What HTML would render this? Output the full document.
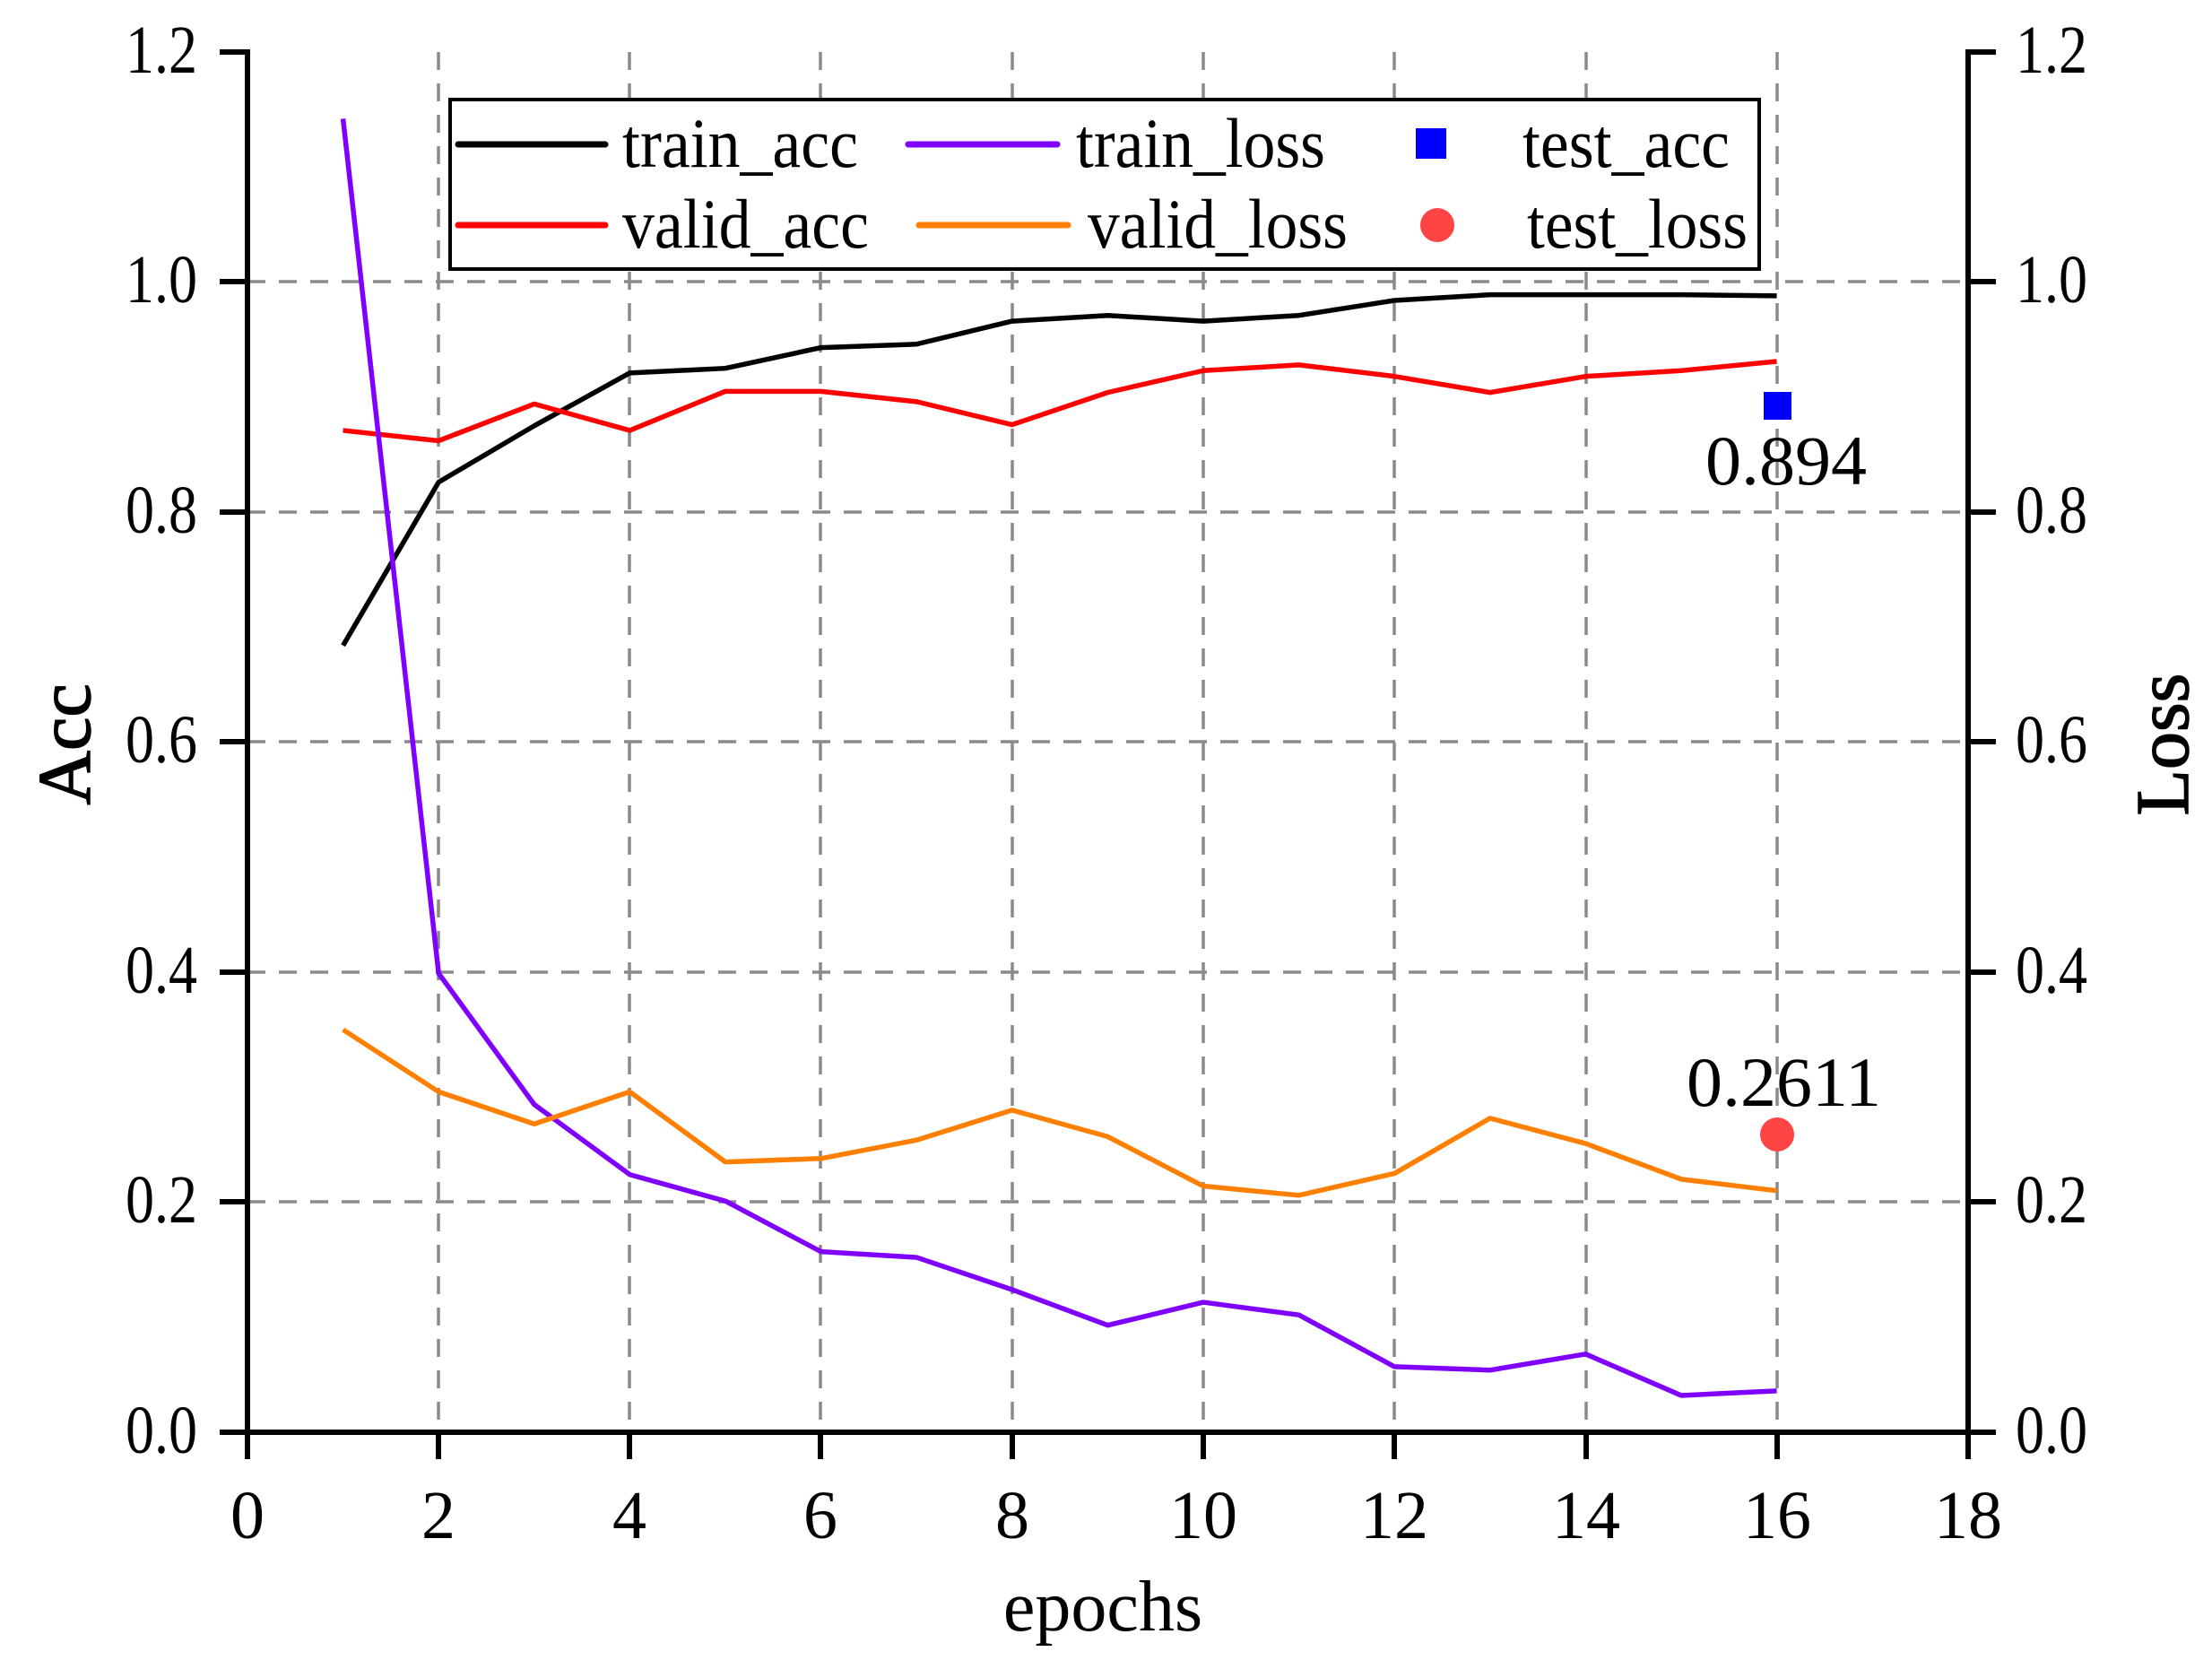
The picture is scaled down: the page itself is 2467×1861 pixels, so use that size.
<!DOCTYPE html>
<html><head><style>
html,body{margin:0;padding:0;background:#fff;}
svg{display:block;}
text{font-family:"Liberation Serif",serif;fill:#000;}
</style></head><body>
<svg width="2467" height="1861" viewBox="0 0 2467 1861" xmlns="http://www.w3.org/2000/svg">
<rect width="2467" height="1861" fill="#fff"/>
<g stroke="#8a8a8a" stroke-width="3.5" stroke-dasharray="20,15" fill="none">
<line x1="489" y1="58" x2="489" y2="1597"/>
<line x1="702" y1="58" x2="702" y2="1597"/>
<line x1="915" y1="58" x2="915" y2="1597"/>
<line x1="1129" y1="58" x2="1129" y2="1597"/>
<line x1="1342" y1="58" x2="1342" y2="1597"/>
<line x1="1555" y1="58" x2="1555" y2="1597"/>
<line x1="1769" y1="58" x2="1769" y2="1597"/>
<line x1="1982" y1="58" x2="1982" y2="1597"/>
<line x1="276" y1="314" x2="2195" y2="314"/>
<line x1="276" y1="571" x2="2195" y2="571"/>
<line x1="276" y1="827" x2="2195" y2="827"/>
<line x1="276" y1="1084" x2="2195" y2="1084"/>
<line x1="276" y1="1340" x2="2195" y2="1340"/>
</g>
<rect x="502" y="111" width="1460" height="189" fill="#fff" stroke="#000" stroke-width="4"/>
<g stroke-width="7" stroke-linecap="round">
<line x1="511" y1="161" x2="675" y2="161" stroke="#000"/>
<line x1="511" y1="251" x2="675" y2="251" stroke="#f00"/>
<line x1="1013" y1="161" x2="1179" y2="161" stroke="#8000ff"/>
<line x1="1025" y1="251" x2="1191" y2="251" stroke="#ff8000"/>
</g>
<rect x="1579" y="143" width="34" height="34" fill="#0000ff"/>
<ellipse cx="1603" cy="251" rx="19" ry="19" fill="#f44"/>
<g font-size="78">
<text x="694" y="186" textLength="263" lengthAdjust="spacingAndGlyphs">train_acc</text>
<text x="694" y="276" textLength="275" lengthAdjust="spacingAndGlyphs">valid_acc</text>
<text x="1200" y="186" textLength="278" lengthAdjust="spacingAndGlyphs">train_loss</text>
<text x="1213" y="276" textLength="290" lengthAdjust="spacingAndGlyphs">valid_loss</text>
<text x="1698" y="186" textLength="231" lengthAdjust="spacingAndGlyphs">test_acc</text>
<text x="1703" y="276" textLength="246" lengthAdjust="spacingAndGlyphs">test_loss</text>
</g>
<g transform="translate(276,1597) scale(106.6,-1282.5)" fill="none" stroke-width="5.5" stroke-linejoin="round">
<polyline vector-effect="non-scaling-stroke" stroke="#000" points="1,0.684 2,0.826 3,0.875 4,0.921 5,0.925 6,0.943 7,0.946 8,0.966 9,0.971 10,0.966 11,0.971 12,0.984 13,0.989 14,0.989 15,0.989 16,0.988"/>
<polyline vector-effect="non-scaling-stroke" stroke="#f00" points="1,0.871 2,0.862 3,0.894 4,0.871 5,0.905 6,0.905 7,0.896 8,0.876 9,0.904 10,0.923 11,0.928 12,0.918 13,0.904 14,0.918 15,0.923 16,0.931"/>
<polyline vector-effect="non-scaling-stroke" stroke="#8000ff" points="1,1.142 2,0.399 3,0.285 4,0.224 5,0.201 6,0.157 7,0.152 8,0.124 9,0.093 10,0.113 11,0.102 12,0.057 13,0.054 14,0.068 15,0.032 16,0.036"/>
<polyline vector-effect="non-scaling-stroke" stroke="#ff8000" points="1,0.350 2,0.296 3,0.268 4,0.296 5,0.235 6,0.238 7,0.254 8,0.280 9,0.257 10,0.214 11,0.206 12,0.225 13,0.273 14,0.251 15,0.220 16,0.210"/>
</g>
<rect x="1967" y="437" width="31" height="31" fill="#0000ff"/>
<circle cx="1982" cy="1265" r="19" fill="#f44"/>
<text x="1902" y="540" font-size="78" textLength="180" lengthAdjust="spacingAndGlyphs">0.894</text>
<text x="1881" y="1233" font-size="78" textLength="217" lengthAdjust="spacingAndGlyphs">0.2611</text>
<g stroke="#000" stroke-width="6" fill="none">
<line x1="276" y1="55" x2="276" y2="1600"/>
<line x1="2195" y1="55" x2="2195" y2="1600"/>
<line x1="245" y1="1597" x2="2226" y2="1597"/>
<line x1="245" y1="58" x2="276" y2="58"/>
<line x1="245" y1="314" x2="276" y2="314"/>
<line x1="245" y1="571" x2="276" y2="571"/>
<line x1="245" y1="827" x2="276" y2="827"/>
<line x1="245" y1="1084" x2="276" y2="1084"/>
<line x1="245" y1="1340" x2="276" y2="1340"/>
<line x1="2195" y1="58" x2="2226" y2="58"/>
<line x1="2195" y1="314" x2="2226" y2="314"/>
<line x1="2195" y1="571" x2="2226" y2="571"/>
<line x1="2195" y1="827" x2="2226" y2="827"/>
<line x1="2195" y1="1084" x2="2226" y2="1084"/>
<line x1="2195" y1="1340" x2="2226" y2="1340"/>
<line x1="276" y1="1597" x2="276" y2="1627"/>
<line x1="489" y1="1597" x2="489" y2="1627"/>
<line x1="702" y1="1597" x2="702" y2="1627"/>
<line x1="915" y1="1597" x2="915" y2="1627"/>
<line x1="1129" y1="1597" x2="1129" y2="1627"/>
<line x1="1342" y1="1597" x2="1342" y2="1627"/>
<line x1="1555" y1="1597" x2="1555" y2="1627"/>
<line x1="1769" y1="1597" x2="1769" y2="1627"/>
<line x1="1982" y1="1597" x2="1982" y2="1627"/>
<line x1="2195" y1="1597" x2="2195" y2="1627"/>
</g>
<g font-size="76">
<text x="140" y="81" textLength="80" lengthAdjust="spacingAndGlyphs">1.2</text>
<text x="140" y="337" textLength="80" lengthAdjust="spacingAndGlyphs">1.0</text>
<text x="140" y="594" textLength="80" lengthAdjust="spacingAndGlyphs">0.8</text>
<text x="140" y="850" textLength="80" lengthAdjust="spacingAndGlyphs">0.6</text>
<text x="140" y="1107" textLength="80" lengthAdjust="spacingAndGlyphs">0.4</text>
<text x="140" y="1363" textLength="80" lengthAdjust="spacingAndGlyphs">0.2</text>
<text x="140" y="1620" textLength="80" lengthAdjust="spacingAndGlyphs">0.0</text>
<text x="2248" y="81" textLength="80" lengthAdjust="spacingAndGlyphs">1.2</text>
<text x="2248" y="337" textLength="80" lengthAdjust="spacingAndGlyphs">1.0</text>
<text x="2248" y="594" textLength="80" lengthAdjust="spacingAndGlyphs">0.8</text>
<text x="2248" y="850" textLength="80" lengthAdjust="spacingAndGlyphs">0.6</text>
<text x="2248" y="1107" textLength="80" lengthAdjust="spacingAndGlyphs">0.4</text>
<text x="2248" y="1363" textLength="80" lengthAdjust="spacingAndGlyphs">0.2</text>
<text x="2248" y="1620" textLength="80" lengthAdjust="spacingAndGlyphs">0.0</text>
</g>
<g font-size="76" text-anchor="middle">
<text x="276" y="1715">0</text>
<text x="489" y="1715">2</text>
<text x="702" y="1715">4</text>
<text x="915" y="1715">6</text>
<text x="1129" y="1715">8</text>
<text x="1342" y="1715">10</text>
<text x="1555" y="1715">12</text>
<text x="1769" y="1715">14</text>
<text x="1982" y="1715">16</text>
<text x="2195" y="1715">18</text>
</g>
<text x="1230" y="1818" font-size="80" text-anchor="middle">epochs</text>
<text transform="translate(100,830) rotate(-90)" font-size="84" text-anchor="middle" stroke="#000" stroke-width="1.5">Acc</text>
<text transform="translate(2440,830) rotate(-90)" font-size="84" text-anchor="middle" stroke="#000" stroke-width="1.5">Loss</text>
</svg>
</body></html>
